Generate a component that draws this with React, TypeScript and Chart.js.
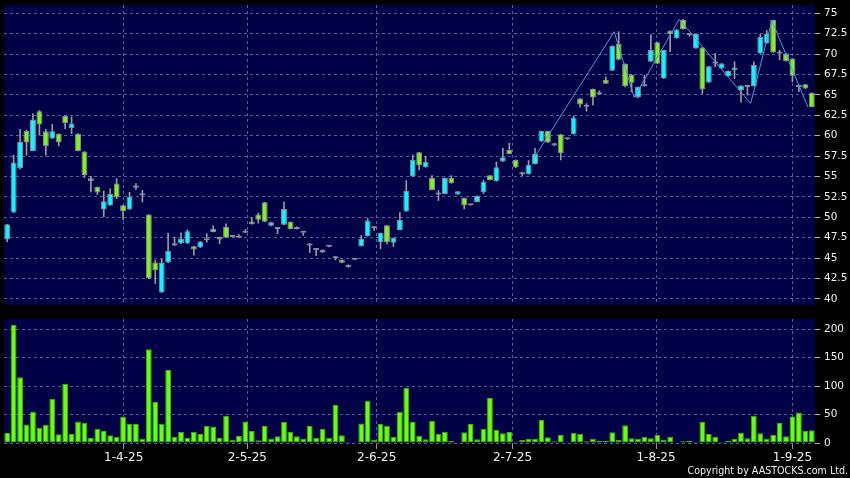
import React, { useEffect, useRef } from "react";
import { Chart, registerables } from "chart.js";
Chart.register(...registerables);

// ---- trading days (HK calendar) ----
const marchDays = [6, 7, 10, 11, 12, 13, 14, 17, 18, 19, 20, 21, 24, 25, 26, 27, 28, 31];
const aprilDays = [1, 2, 3, 7, 8, 9, 10, 11, 14, 15, 16, 17, 22, 23, 24, 25, 28, 29, 30];
const mayDays = [2, 6, 7, 8, 9, 12, 13, 14, 15, 16, 19, 20, 21, 22, 23, 26, 27, 28, 29, 30];
const juneDays = [2, 3, 4, 5, 6, 9, 10, 11, 12, 13, 16, 17, 18, 19, 20, 23, 24, 25, 26, 27, 30];
const julyDays = [2, 3, 4, 7, 8, 9, 10, 11, 14, 15, 16, 17, 18, 21, 22, 23, 24, 25, 28, 29, 30, 31];
const augustDays = [1, 4, 5, 6, 7, 8, 11, 12, 13, 14, 15, 18, 19, 20, 21, 22, 25, 26, 27, 28, 29];
const septemberDays = [1, 2, 3, 4, 5];

const dates: string[] = [
  ...marchDays.map((d) => `${d}-3-25`),
  ...aprilDays.map((d) => `${d}-4-25`),
  ...mayDays.map((d) => `${d}-5-25`),
  ...juneDays.map((d) => `${d}-6-25`),
  ...julyDays.map((d) => `${d}-7-25`),
  ...augustDays.map((d) => `${d}-8-25`),
  ...septemberDays.map((d) => `${d}-9-25`),
];

// ---- OHLC ----
const opens = [
  47.26, 50.57, 56.05, 60.58, 58.13, 62.99, 60.54, 59.64, 60.25, 62.42,
  60.95, 60.25, 58.05, 54.45, 53.72, 50.94, 51.43, 54.13, 51.47, 50.94,
  53.6, 52.7, 50.33, 44.44, 40.77, 44.44, 46.53, 46.77, 46.77, 46.45,
  46.29, 47.18, 48.19, 47.58, 48.83, 47.7, 47.5, 48.1, 49.48, 50.32,
  51.85, 48.95, 48.55, 49.07, 49.44, 48.55, 48.1, 46.53, 45.97, 45.69,
  46.37, 45.22, 44.78, 43.88, 44.8, 46.45, 47.67, 48.9, 46.94, 49.02,
  46.86, 48.45, 50.69, 54.98, 57.96, 56.12, 54.82, 52.78, 52.86, 54.82,
  52.78, 52.37, 51.47, 51.88, 53.1, 55.14, 54.41, 56.83, 58.25, 57.03,
  55.28, 55.28, 56.5, 59.27, 60.57, 58.78, 60.16, 59.55, 60.16, 64.55,
  63.54, 65.73, 65.08, 66.87, 67.97, 71.26, 68.82, 67.48, 64.67, 66.06,
  69.07, 71.46, 67.0, 72.87, 71.93, 74.18, 72.34, 70.7, 70.82, 66.52,
  68.85, 68.24, 67.3, 68.03, 65.57, 65.98, 66.07, 70.08, 71.31, 74.18,
  70.08, 70.08, 69.47, 65.98, 66.31, 65.25,
];
const highs = [
  49.14, 57.6, 60.78, 60.7, 62.7, 63.1, 60.78, 61.4, 60.25, 62.42,
  62.3, 60.25, 58.05, 55.0, 53.72, 53.2, 53.5, 54.74, 51.47, 53.06,
  54.13, 53.3, 50.33, 44.73, 44.85, 48.06, 47.58, 48.1, 48.47, 46.45,
  47.02, 47.98, 48.95, 47.58, 49.19, 47.7, 47.86, 48.5, 49.92, 50.52,
  51.85, 49.4, 48.67, 51.9, 49.44, 48.83, 48.1, 46.77, 45.97, 46.01,
  46.53, 45.22, 44.78, 44.16, 44.8, 47.76, 49.88, 48.9, 48.08, 49.02,
  47.47, 50.57, 54.49, 57.63, 57.96, 57.47, 55.1, 53.27, 54.82, 55.1,
  53.18, 52.37, 51.47, 52.61, 54.57, 55.14, 56.78, 58.46, 59.07, 57.03,
  55.53, 56.95, 58.46, 60.57, 60.57, 59.07, 60.16, 59.55, 62.4, 64.55,
  63.94, 65.73, 65.5, 67.2, 71.02, 72.75, 68.82, 67.48, 65.98, 67.4,
  72.4, 71.46, 70.49, 72.87, 73.03, 74.26, 72.5, 72.46, 70.82, 68.52,
  70.08, 68.85, 67.95, 69.06, 66.15, 66.2, 69.06, 72.42, 72.9, 74.18,
  70.5, 70.08, 69.47, 66.2, 66.31, 65.25,
];
const lows = [
  46.98, 50.57, 55.9, 57.6, 58.13, 60.05, 57.6, 59.64, 58.74, 60.87,
  60.25, 58.13, 54.86, 53.1, 52.78, 50.04, 51.43, 52.29, 49.71, 50.94,
  53.4, 51.88, 42.48, 41.87, 40.77, 44.44, 46.53, 46.77, 46.77, 45.36,
  46.29, 46.94, 48.19, 46.77, 47.5, 47.58, 47.5, 48.1, 49.15, 49.27,
  49.44, 48.95, 47.98, 49.07, 48.55, 48.55, 47.78, 45.67, 45.28, 45.69,
  46.37, 44.76, 44.41, 43.88, 44.8, 46.45, 47.67, 48.37, 46.12, 46.73,
  46.41, 48.45, 50.69, 54.98, 55.8, 56.12, 53.35, 52.04, 52.86, 54.16,
  52.78, 51.02, 51.47, 51.88, 52.9, 54.57, 54.41, 56.83, 57.76, 56.1,
  55.1, 55.28, 56.5, 59.27, 59.15, 58.78, 57.03, 59.55, 60.16, 63.5,
  63.0, 63.74, 65.08, 66.38, 67.97, 69.31, 65.98, 65.37, 64.67, 66.06,
  69.07, 68.82, 67.0, 70.29, 71.93, 73.07, 72.2, 70.7, 65.16, 66.52,
  68.44, 68.24, 67.3, 67.0, 64.1, 64.96, 66.07, 70.08, 71.31, 70.2,
  69.3, 69.14, 66.6, 65.4, 65.78, 63.52,
];
const closes = [
  49.14, 56.7, 59.23, 59.15, 61.97, 61.36, 58.74, 60.54, 59.15, 61.56,
  61.48, 58.13, 55.19, 54.78, 53.02, 51.96, 52.86, 52.41, 50.74, 52.49,
  53.88, 52.7, 42.48, 43.5, 44.44, 45.89, 46.81, 47.38, 48.27, 46.05,
  47.02, 47.18, 48.59, 47.26, 47.5, 47.58, 47.5, 48.27, 49.15, 49.68,
  49.44, 49.4, 48.55, 51.0, 48.55, 48.83, 48.1, 46.77, 45.97, 46.01,
  46.37, 44.98, 44.41, 44.16, 44.8, 47.35, 49.59, 48.65, 48.08, 46.94,
  47.47, 49.67, 53.22, 57.02, 56.33, 56.78, 53.35, 52.78, 54.82, 54.16,
  53.18, 51.43, 51.47, 52.61, 54.33, 54.57, 56.12, 57.36, 57.76, 56.1,
  55.53, 56.42, 57.76, 60.57, 59.15, 59.07, 57.85, 59.55, 62.24, 63.82,
  63.54, 64.67, 65.28, 66.38, 71.02, 69.31, 66.1, 66.5, 65.98, 66.3,
  70.53, 68.82, 70.49, 72.46, 73.03, 73.07, 72.34, 72.46, 65.66, 68.52,
  68.85, 68.85, 67.95, 68.36, 66.15, 65.98, 68.65, 72.13, 72.54, 70.2,
  70.08, 69.14, 67.34, 65.98, 65.78, 63.52,
];
const volumes = [
  17.5, 207.6, 115.8, 32.7, 55, 26.3, 32.2, 77.8, 15.2, 104,
  15.8, 38, 35.7, 9.4, 25.1, 21, 13.5, 11.1, 45.6, 33.9,
  33.3, 7.6, 164.9, 72.5, 33.9, 128.7, 11.1, 19.3, 8.8, 19.9,
  15.8, 30.4, 29.2, 8.8, 47.4, 5.8, 12.3, 38, 21, 4.7,
  29.8, 7.6, 11.7, 36.8, 19.9, 11.7, 7.6, 29.8, 9.4, 25.1,
  9.4, 66.7, 13.5, 2.3, 1.2, 34.5, 74.3, 5.8, 33.9, 30.4,
  10.5, 55, 96.5, 37.4, 12.9, 6.4, 39.2, 15.8, 19.9, 3.5,
  1.2, 18.7, 33.3, 6.4, 25.1, 78.9, 23.4, 17, 19.3, 1.8,
  5.3, 7.6, 7.6, 40.4, 9.9, 2.9, 14.6, 0.6, 18.1, 16.4,
  2.9, 7.6, 4.1, 3.5, 18.7, 5.8, 31, 8.2, 7.6, 11.1,
  8.2, 14, 5.8, 11.1, 1.2, 2.9, 4.1, 2.3, 36.8, 15.8,
  11.1, 1.8, 3.5, 7.6, 17.5, 8.2, 48, 17, 7, 14,
  35.1, 11.7, 46.8, 53.8, 21, 22.2,
];

// ---- zigzag overlay (bar position, price) ----
const zigzagX = [82.0, 94.3, 97.4, 104.4, 115.5, 118.8, 124.4];
const zigzagY = [57.45, 72.75, 64.7, 74.26, 63.95, 74.1, 63.52];

// ---- axes ----
const xTickPos = [18.1, 37.3, 57.4, 78.5, 100.8, 122.0];
const xTickLabels = ["1-4-25", "2-5-25", "2-6-25", "2-7-25", "1-8-25", "1-9-25"];
const priceTicks = [40, 42.5, 45, 47.5, 50, 52.5, 55, 57.5, 60, 62.5, 65, 67.5, 70, 72.5, 75];
const volumeTicks = [0, 50, 100, 150, 200];

const NAVY = "#000046";
const GRID = "#5c5c98";
const CYAN = "#10f4ff";
const GREEN = "#84f020";
const DOJI = "#9a9a9a";
const BORDER = "#8a8a9a";
const WICK = "#9a9a9a";
const VOL = "#66ff11";
const VOL_BORDER = "#44b000";
const ZIG = "#4a9be6";
const TEXT = "#f0f0f0";
const FONT = "'DejaVu Sans', Verdana, sans-serif";

const plotBg = {
  id: "plotBg",
  beforeDraw(chart: any) {
    const { ctx, chartArea } = chart;
    ctx.save();
    ctx.fillStyle = NAVY;
    ctx.fillRect(chartArea.left, chartArea.top, chartArea.right - chartArea.left, chartArea.bottom - chartArea.top);
    ctx.restore();
  },
};

const N = dates.length;

const zeroPadding = (s: any) => {
  s.paddingTop = 0;
  s.paddingBottom = 0;
  s.paddingLeft = 0;
  s.paddingRight = 0;
};

function xAxes(showLabels: boolean, height: number) {
  return {
    x: { type: "category", display: false, offset: true },
    xt: {
      type: "linear",
      position: "bottom",
      offset: false,
      min: -0.5,
      max: N - 0.5,
      afterBuildTicks: (s: any) => {
        s.ticks = xTickPos.map((v) => ({ value: v }));
      },
      afterFit: (s: any) => {
        s.height = height;
        zeroPadding(s);
      },
      ticks: {
        display: showLabels,
        autoSkip: false,
        maxRotation: 0,
        padding: 2,
        color: TEXT,
        font: { family: FONT, size: 12 },
        callback: (_v: any, i: number) => xTickLabels[i],
      },
      grid: {
        offset: false,
        color: GRID,
        drawTicks: showLabels,
        tickLength: 6,
        tickColor: "#9a9a9a",
      },
      border: { display: false, dash: [3, 3] },
    },
  };
}

function yAxis(min: number, max: number, ticks: number[]) {
  return {
    type: "linear",
    position: "right",
    min,
    max,
    afterBuildTicks: (s: any) => {
      s.ticks = ticks.map((v) => ({ value: v }));
    },
    afterFit: (s: any) => {
      s.width = 35;
      zeroPadding(s);
    },
    ticks: {
      color: TEXT,
      padding: 4,
      autoSkip: false,
      font: { family: FONT, size: 10.5 },
    },
    grid: { color: GRID, tickLength: 5, tickColor: "#b0b0b0" },
    border: { display: false, dash: [3, 3] },
  };
}

export default function App() {
  const priceRef = useRef<HTMLCanvasElement>(null);
  const volRef = useRef<HTMLCanvasElement>(null);

  useEffect(() => {
    const bodyColors = opens.map((o, i) => (closes[i] > o ? CYAN : closes[i] < o ? GREEN : DOJI));
    const priceChart = new Chart(priceRef.current as HTMLCanvasElement, {
      type: "bar",
      data: {
        labels: dates,
        datasets: [
          {
            type: "line",
            data: zigzagX.map((x, i) => ({ x, y: zigzagY[i] })),
            xAxisID: "xt",
            yAxisID: "y",
            borderColor: ZIG,
            borderWidth: 1,
            pointRadius: 0,
            fill: false,
            tension: 0,
            order: 0,
          } as any,
          {
            data: opens.map((o, i) => [o, closes[i]]),
            xAxisID: "x",
            yAxisID: "y",
            backgroundColor: bodyColors,
            borderColor: BORDER,
            borderWidth: 1,
            borderSkipped: false,
            grouped: false,
            barPercentage: 0.92,
            categoryPercentage: 1,
            minBarLength: 2,
            order: 1,
          } as any,
          {
            data: lows.map((l, i) => [l, highs[i]]),
            xAxisID: "x",
            yAxisID: "y",
            backgroundColor: WICK,
            borderWidth: 0,
            grouped: false,
            barThickness: 1,
            order: 2,
          } as any,
        ],
      },
      options: {
        responsive: false,
        animation: false,
        devicePixelRatio: 1,
        events: [],
        layout: { padding: { left: 4, top: 5, right: 0, bottom: 0 } },
        plugins: { legend: { display: false }, tooltip: { enabled: false } },
        scales: {
          ...xAxes(false, 5),
          y: yAxis(39.24, 76.02, priceTicks),
        } as any,
      },
      plugins: [plotBg],
    });

    const volChart = new Chart(volRef.current as HTMLCanvasElement, {
      type: "bar",
      data: {
        labels: dates,
        datasets: [
          {
            data: volumes,
            xAxisID: "x",
            yAxisID: "y",
            backgroundColor: VOL,
            borderColor: VOL_BORDER,
            borderWidth: 1,
            borderSkipped: false,
            barPercentage: 0.9,
            categoryPercentage: 1,
          } as any,
        ],
      },
      options: {
        responsive: false,
        animation: false,
        devicePixelRatio: 1,
        events: [],
        layout: { padding: { left: 4, top: 9, right: 0, bottom: 0 } },
        plugins: { legend: { display: false }, tooltip: { enabled: false } },
        scales: {
          ...xAxes(true, 35),
          y: yAxis(0, 218, volumeTicks),
        } as any,
      },
      plugins: [plotBg],
    });

    return () => {
      priceChart.destroy();
      volChart.destroy();
    };
  }, []);

  return (
    <div style={{ position: "fixed", left: 0, top: 0, width: 850, height: 478, background: "#000", overflow: "hidden" }}>
      <canvas ref={priceRef} width={850} height={310} style={{ position: "absolute", left: 0, top: 0, width: 850, height: 310 }} />
      <canvas ref={volRef} width={850} height={168} style={{ position: "absolute", left: 0, top: 310, width: 850, height: 168 }} />
      <div
        style={{
          position: "absolute",
          right: 2,
          top: 463,
          color: TEXT,
          fontFamily: "'DejaVu Sans Condensed', 'DejaVu Sans', sans-serif",
          fontStretch: "condensed",
          fontSize: 10.6,
          lineHeight: "14px",
          whiteSpace: "nowrap",
        }}
      >
        Copyright by AASTOCKS.com Ltd.
      </div>
    </div>
  );
}
